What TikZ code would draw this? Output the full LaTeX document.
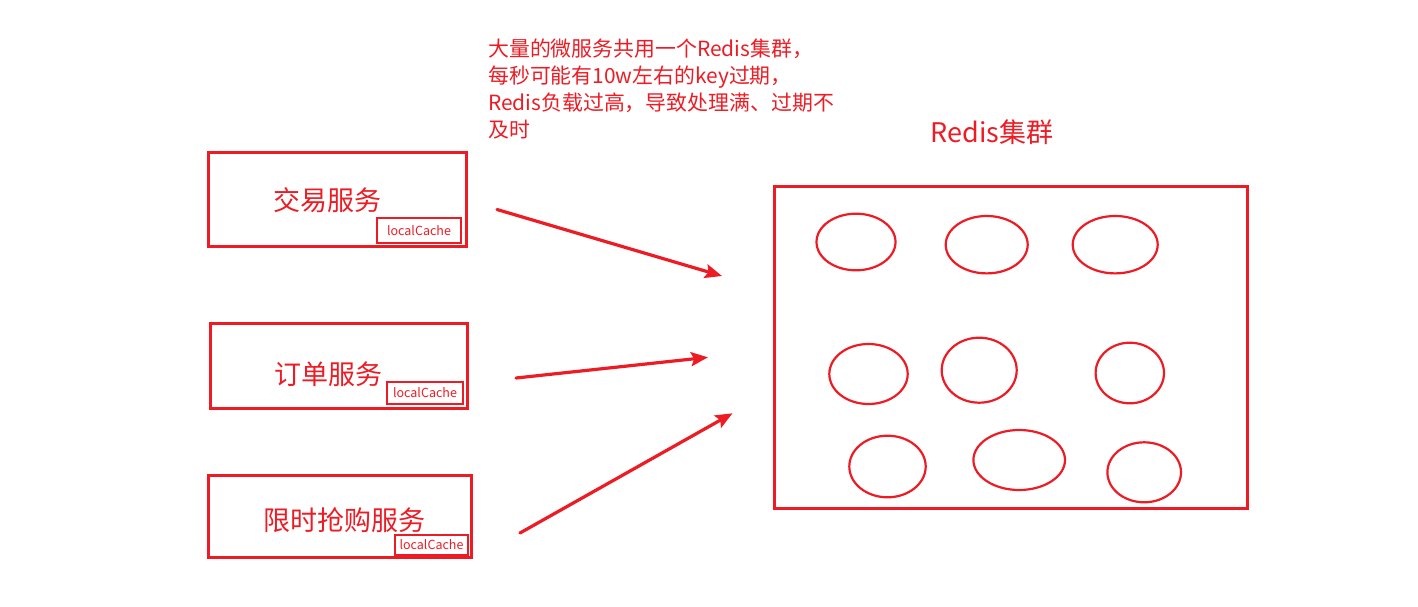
\documentclass[tikz,border=0pt]{standalone}
\usepackage{fontspec}
\setmainfont{Noto Sans CJK SC}
\usetikzlibrary{arrows.meta,shapes.geometric}
\definecolor{rd}{HTML}{ED1C24}
\begin{document}
\begin{tikzpicture}[x=1pt,y=-1pt,
  box/.style={draw=rd,line width=3pt},
  cachebox/.style={draw=rd,line width=2.6pt,inner sep=0pt},
  cachetxt/.style={text=rd,font=\fontsize{12.5}{14}\selectfont},
  svc/.style={text=rd,font=\fontsize{27}{32}\selectfont,inner sep=0pt},
  ell/.style={draw=rd,line width=2.2pt,ellipse,inner sep=0pt},
  arr/.style={draw=rd,line width=3.2pt,-{Stealth[length=17pt,width=14pt,inset=3pt]}}]
\useasboundingbox (0,0) rectangle (1418,607);
% service boxes
\draw[box] (208,152) rectangle (466,246);
\draw[box] (210,323) rectangle (467,408);
\draw[box] (208,475) rectangle (471,557);
\node[svc] (t1) at (327,200) {交易服务};
\node[svc] (t2) at (328,374) {订单服务};
\node[svc] (t3) at (344,520) {限时抢购服务};
\draw[cachebox] (377,218) rectangle (461,243);
\draw[cachebox] (387,382) rectangle (463,404);
\draw[cachebox] (395,535) rectangle (468,555);
\node[cachetxt] (c1) at (419,231) {localCache};
\node[cachetxt] (c2) at (425,393) {localCache};
\node[cachetxt] (c3) at (431.5,545) {localCache};
% annotation
\node[anchor=north west,inner sep=0pt,align=left,text=rd,font=\fontsize{20.9}{27}\selectfont] (note) at (488,38.5)
 {大量的微服务共用一个Redis集群，\\每秒可能有10w左右的key过期，\\Redis负载过高，导致处理满、过期不\\及时};
% Redis cluster
\node[svc] (title) at (992,132) {Redis集群};
\draw[box] (774,186) rectangle (1247,508);
\node[ell,minimum width=79,minimum height=56.6] (e1) at (856,242) {};
\node[ell,minimum width=82,minimum height=57.4] (e2) at (986.7,244.7) {};
\node[ell,minimum width=85,minimum height=57.4] (e3) at (1115.2,244.7) {};
\node[ell,minimum width=78.4,minimum height=60] (e4) at (868.5,374) {};
\node[ell,minimum width=75,minimum height=65] (e5) at (979.2,370.2) {};
\node[ell,minimum width=68.4,minimum height=60.6] (e6) at (1129.8,373) {};
\node[ell,minimum width=76.4,minimum height=61.6] (e7) at (887.5,466.5) {};
\node[ell,minimum width=91.6,minimum height=60] (e8) at (1019.2,460) {};
\node[ell,minimum width=73.6,minimum height=60] (e9) at (1144.2,472.3) {};
% arrows
\coordinate (a1s) at (497,209.5);
\coordinate (a1e) at (722,276);
\coordinate (a2s) at (516,378);
\coordinate (a2e) at (708,357.3);
\coordinate (a3s) at (520,533);
\coordinate (a3e) at (732.5,413.3);
\draw[arr,line cap=round] (a1s) -- (a1e);
\draw[arr,line cap=round] (a2s) -- (a2e);
\draw[arr,line cap=round] (a3s) -- (a3e);
\end{tikzpicture}
\end{document}
